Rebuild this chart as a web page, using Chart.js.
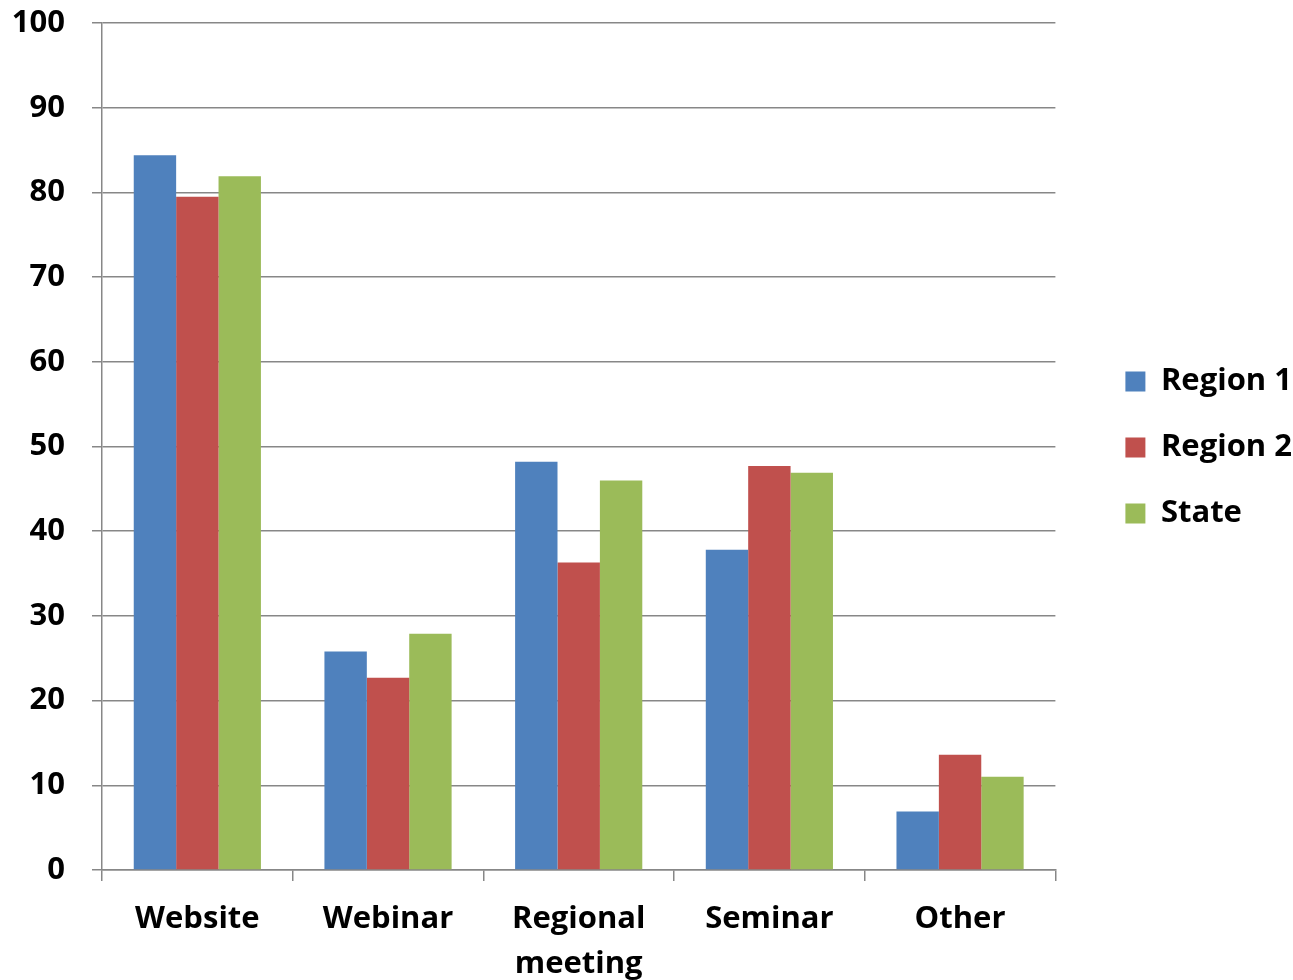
<!DOCTYPE html>
<html>
<head>
<meta charset="utf-8">
<script src="https://cdn.jsdelivr.net/npm/chart.js@4/dist/chart.umd.min.js"></script>
<style>
  html, body { margin: 0; padding: 0; background: #fff; }
  #wrap { position: relative; width: 1293px; height: 980px; }
</style>
</head>
<body>
<div id="wrap"><canvas id="c" width="1293" height="980"></canvas></div>
<script>
const categories = ['Website', 'Webinar', ['Regional', 'meeting'], 'Seminar', 'Other'];
const region1 = [84.4, 25.8, 48.2, 37.8, 6.9];
const region2 = [79.5, 22.7, 36.3, 47.7, 13.6];
const state = [81.9, 27.9, 46.0, 46.9, 11.0];
const yTicks = [0, 10, 20, 30, 40, 50, 60, 70, 80, 90, 100];
const seriesNames = ['Region 1', 'Region 2', 'State'];

const FONT = "'Open Sans', 'Liberation Sans', sans-serif";
const gridColor = '#878787';

function build() {
  new Chart(document.getElementById('c'), {
    type: 'bar',
    data: {
      labels: categories,
      datasets: [
        { label: seriesNames[0], data: region1, backgroundColor: '#4F81BD' },
        { label: seriesNames[1], data: region2, backgroundColor: '#C0504D' },
        { label: seriesNames[2], data: state, backgroundColor: '#9BBB59' }
      ]
    },
    options: {
      responsive: false,
      animation: false,
      devicePixelRatio: 1,
      layout: { padding: { top: 23, left: 0, right: -9, bottom: 0 } },
      datasets: { bar: { barPercentage: 1.0, categoryPercentage: 0.667, borderWidth: 0 } },
      plugins: {
        tooltip: { enabled: false },
        legend: {
          position: 'right',
          align: 'start',
          title: { display: true, text: ' ', font: { size: 10 }, padding: { top: 296, bottom: 0 } },
          labels: {
            boxWidth: 20,
            boxHeight: 20,
            padding: 35,
            color: '#000',
            font: { family: FONT, size: 31, weight: 'bold' }
          }
        }
      },
      scales: {
        x: {
          grid: { offset: true, drawOnChartArea: false, drawTicks: true, tickLength: 11, color: gridColor, lineWidth: 1.5 },
          border: { display: true, color: gridColor, width: 1.5 },
          ticks: { color: '#000', padding: 16, maxRotation: 0, autoSkip: false,
                   font: { family: FONT, size: 31, weight: 'bold', lineHeight: 1.452 } },
          afterFit: s => { s.height = 110; s.paddingLeft = 0; s.paddingRight = 0; }
        },
        y: {
          min: 0, max: 100,
          afterBuildTicks: s => { s.ticks = yTicks.map(v => ({ value: v })); },
          grid: { color: gridColor, lineWidth: 1.5, drawTicks: true, tickLength: 10 },
          border: { display: true, color: gridColor, width: 1.5 },
          ticks: { color: '#000', padding: 27, font: { family: FONT, size: 31, weight: 'bold' } },
          afterFit: s => { s.width = 102; s.paddingTop = 0; s.paddingBottom = 0; }
        },
        gap: {
          type: 'linear', position: 'right', display: true,
          grid: { display: false }, border: { display: false },
          ticks: { display: false },
          afterFit: s => { s.width = 35; s.paddingTop = 0; s.paddingBottom = 0; }
        }
      }
    }
  });
}

Promise.all([
  document.fonts.load("bold 31px 'Open Sans'"),
  document.fonts.load("10px 'Open Sans'")
]).then(build, build);
</script>
</body>
</html>
